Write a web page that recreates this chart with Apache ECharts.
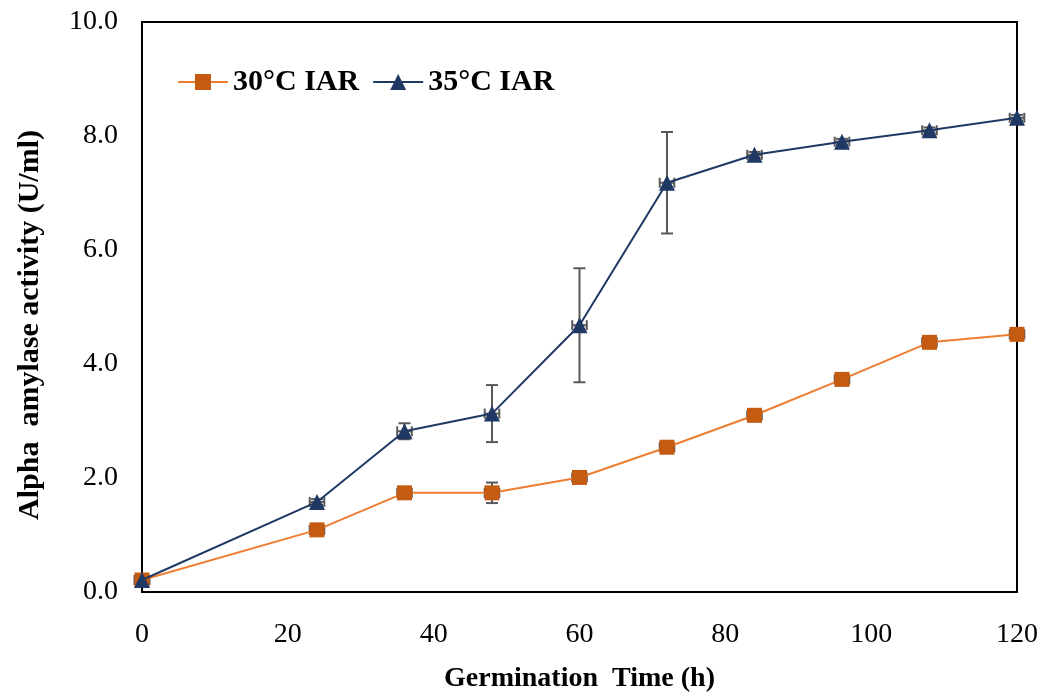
<!DOCTYPE html>
<html><head><meta charset="utf-8">
<script src="https://cdn.jsdelivr.net/npm/echarts@6/dist/echarts.min.js"></script>
<style>html,body{margin:0;padding:0;background:#fff}#c{width:1046px;height:698px}</style>
</head><body><div id="c"></div>
<script>
const hours = [0, 24, 36, 48, 60, 72, 84, 96, 108, 120];
const iar30 = [0.21, 1.09, 1.74, 1.74, 2.01, 2.54, 3.10, 3.73, 4.38, 4.52];
const iar30Err = [0.04, 0.05, 0.05, 0.18, 0.05, 0.05, 0.05, 0.05, 0.05, 0.05];
const iar35 = [0.21, 1.58, 2.82, 3.13, 4.68, 7.18, 7.67, 7.90, 8.10, 8.32];
const iar35Err = [0.04, 0.05, 0.14, 0.50, 1.00, 0.89, 0.05, 0.05, 0.05, 0.05];
const xErr = 1.0;
const xTicks = [0, 20, 40, 60, 80, 100, 120];
const yTicks = [0, 2, 4, 6, 8, 10];

const font = '"Liberation Serif","Times New Roman",serif';
function errData(vals, errs){ return hours.map((h,i)=>[h, vals[i], errs[i]]); }
function errRender(params, api){
  const x = api.value(0), y = api.value(1), e = api.value(2);
  const c = api.coord([x, y]);
  const top = api.coord([x, y + e]);
  const bot = api.coord([x, y - e]);
  const left = api.coord([x - xErr, y]);
  const right = api.coord([x + xErr, y]);
  const cap = 6;
  const st = {stroke:'#595959', lineWidth:2};
  const kids = [
    {type:'line', shape:{x1:c[0], y1:top[1], x2:c[0], y2:bot[1]}, style:st},
    {type:'line', shape:{x1:c[0]-cap, y1:top[1], x2:c[0]+cap, y2:top[1]}, style:st},
    {type:'line', shape:{x1:c[0]-cap, y1:bot[1], x2:c[0]+cap, y2:bot[1]}, style:st},
    {type:'line', shape:{x1:left[0], y1:c[1], x2:right[0], y2:c[1]}, style:st},
    {type:'line', shape:{x1:left[0], y1:c[1]-5, x2:left[0], y2:c[1]+5}, style:st},
    {type:'line', shape:{x1:right[0], y1:c[1]-5, x2:right[0], y2:c[1]+5}, style:st}
  ];
  return {type:'group', children:kids};
}
const chart = echarts.init(document.getElementById('c'));
chart.setOption({
  animation:false,
  backgroundColor:'#fff',
  grid:{left:142, right:29, top:22, bottom:105, show:true, borderColor:'#000', borderWidth:2, backgroundColor:'transparent'},
  legend:{
    left:172, top:62, itemGap:13, itemWidth:50, itemHeight:20,
    textStyle:{fontFamily:font, fontWeight:'bold', fontSize:30, color:'#000'},
    data:['30°C IAR','35°C IAR']
  },
  xAxis:{
    type:'value', min:0, max:120, interval:20,
    name:'Germination  Time (h)', nameLocation:'middle', nameGap:73,
    nameTextStyle:{fontFamily:font, fontWeight:'bold', fontSize:28, color:'#000'},
    axisLine:{show:true, lineStyle:{color:'#000', width:2}},
    axisTick:{show:false},
    splitLine:{show:false},
    axisLabel:{fontFamily:font, fontSize:28, color:'#000', margin:29}
  },
  yAxis:{
    type:'value', min:0, max:10, interval:2,
    name:'Alpha  amylase activity (U/ml)', nameLocation:'middle', nameGap:97,
    nameTextStyle:{fontFamily:font, fontWeight:'bold', fontSize:30, color:'#000', padding:[0,36,0,0]},
    axisLine:{show:true, lineStyle:{color:'#000', width:2}},
    axisTick:{show:false},
    splitLine:{show:false},
    axisLabel:{fontFamily:font, fontSize:28, color:'#000', margin:24, formatter:v=>v.toFixed(1)}
  },
  series:[
    {type:'custom', name:'err30', renderItem:errRender, data:errData(iar30, iar30Err), z:2, silent:true},
    {type:'custom', name:'err35', renderItem:errRender, data:errData(iar35, iar35Err), z:2, silent:true},
    {type:'line', name:'30°C IAR', data:hours.map((h,i)=>[h, iar30[i]]), z:3,
      symbol:'rect', symbolSize:15,
      lineStyle:{color:'#ED7D31', width:2},
      itemStyle:{color:'#C55A11', borderWidth:0}},
    {type:'line', name:'35°C IAR', data:hours.map((h,i)=>[h, iar35[i]]), z:4,
      symbol:'triangle', symbolSize:16,
      lineStyle:{color:'#203864', width:2},
      itemStyle:{color:'#203864', borderWidth:0}}
  ]
});
</script>
</body></html>
